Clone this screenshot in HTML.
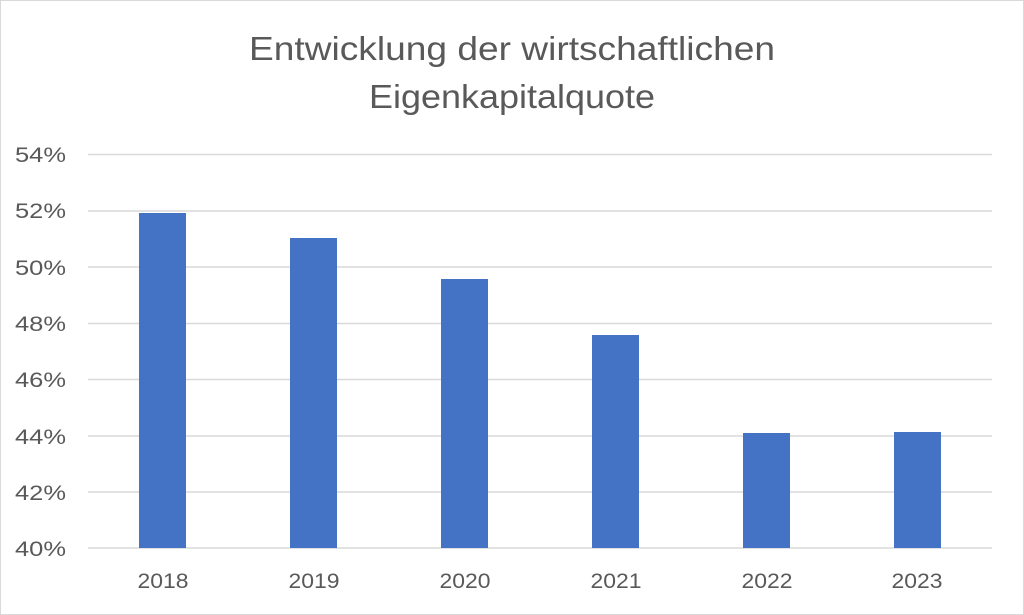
<!DOCTYPE html>
<html><head><meta charset="utf-8"><style>
body{margin:0;background:#fff}
svg{display:block}
text{font-family:"Liberation Sans",sans-serif;fill:#595959}
</style></head><body>
<svg width="1024" height="615" viewBox="0 0 1024 615">
<rect x="0.5" y="0.5" width="1023" height="614" fill="#fff" stroke="#d9d9d9"/>
<text x="512" y="60" font-size="33" text-anchor="middle" textLength="526" lengthAdjust="spacingAndGlyphs">Entwicklung der wirtschaftlichen</text>
<text x="512" y="108" font-size="33" text-anchor="middle" textLength="286" lengthAdjust="spacingAndGlyphs">Eigenkapitalquote</text>
<g stroke="#d9d9d9" stroke-width="1.5">
<line x1="88" x2="992" y1="154.5" y2="154.5"/>
<line x1="88" x2="992" y1="211" y2="211"/>
<line x1="88" x2="992" y1="267" y2="267"/>
<line x1="88" x2="992" y1="323.5" y2="323.5"/>
<line x1="88" x2="992" y1="379.5" y2="379.5"/>
<line x1="88" x2="992" y1="436" y2="436"/>
<line x1="88" x2="992" y1="492" y2="492"/>
<line x1="88" x2="992" y1="548" y2="548"/>
</g>
<g font-size="21" text-anchor="end">
<text x="66" y="162" textLength="51" lengthAdjust="spacingAndGlyphs">54%</text>
<text x="66" y="218" textLength="51" lengthAdjust="spacingAndGlyphs">52%</text>
<text x="66" y="275" textLength="51" lengthAdjust="spacingAndGlyphs">50%</text>
<text x="66" y="331" textLength="51" lengthAdjust="spacingAndGlyphs">48%</text>
<text x="66" y="387" textLength="51" lengthAdjust="spacingAndGlyphs">46%</text>
<text x="66" y="444" textLength="51" lengthAdjust="spacingAndGlyphs">44%</text>
<text x="66" y="500" textLength="51" lengthAdjust="spacingAndGlyphs">42%</text>
<text x="66" y="556" textLength="51" lengthAdjust="spacingAndGlyphs">40%</text>
</g>
<g fill="#4472c4">
<rect x="139" y="213" width="47" height="335"/>
<rect x="290" y="238" width="47" height="310"/>
<rect x="441" y="279" width="47" height="269"/>
<rect x="592" y="335" width="47" height="213"/>
<rect x="743" y="433" width="47" height="115"/>
<rect x="894" y="432" width="47" height="116"/>
</g>
<g font-size="21" text-anchor="middle">
<text x="163" y="588" textLength="51" lengthAdjust="spacingAndGlyphs">2018</text>
<text x="314" y="588" textLength="51" lengthAdjust="spacingAndGlyphs">2019</text>
<text x="465" y="588" textLength="51" lengthAdjust="spacingAndGlyphs">2020</text>
<text x="616" y="588" textLength="51" lengthAdjust="spacingAndGlyphs">2021</text>
<text x="767" y="588" textLength="51" lengthAdjust="spacingAndGlyphs">2022</text>
<text x="917" y="588" textLength="51" lengthAdjust="spacingAndGlyphs">2023</text>
</g>
</svg>
</body></html>
